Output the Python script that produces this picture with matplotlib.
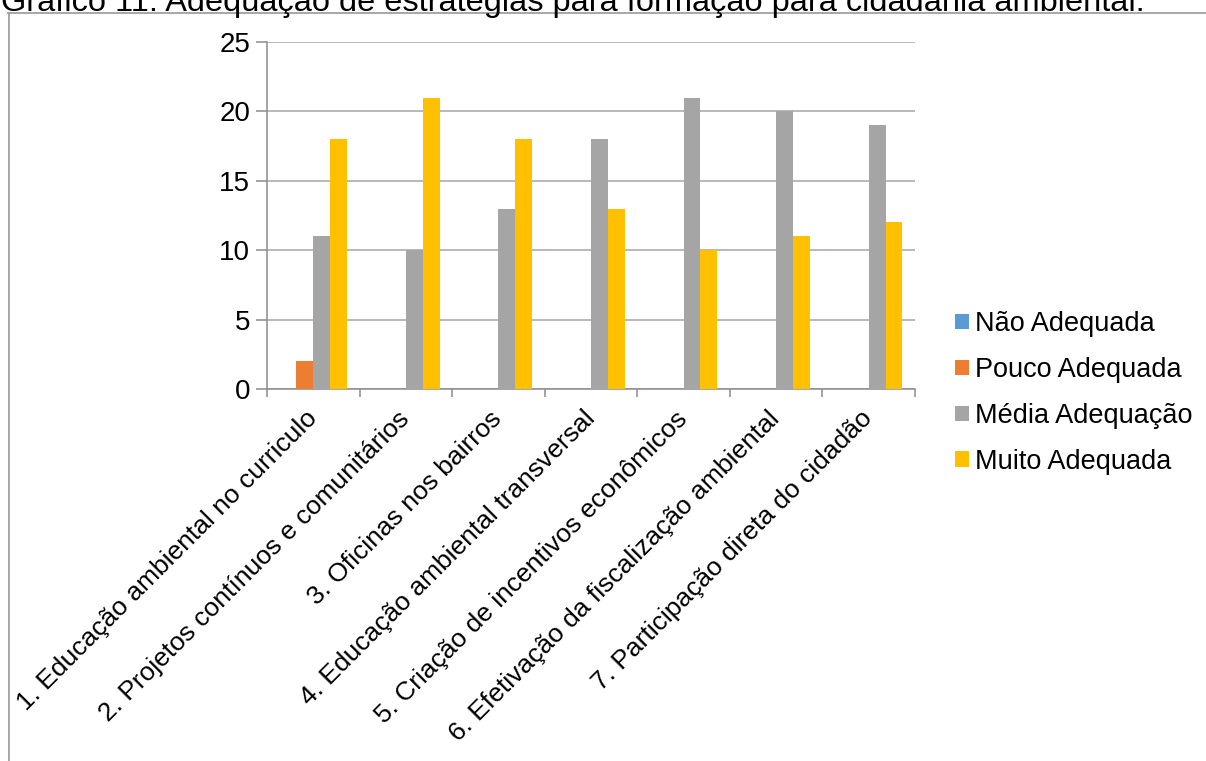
import matplotlib
matplotlib.use("Agg")
import matplotlib.pyplot as plt
from matplotlib.lines import Line2D
from matplotlib.transforms import ScaledTranslation
import numpy as np

plt.rcParams['font.family'] = ['Liberation Sans', 'DejaVu Sans']

categories = [
    "1. Educação ambiental no curriculo",
    "2. Projetos contínuos e comunitários",
    "3. Oficinas nos bairros",
    "4. Educação ambiental transversal",
    "5. Criação de incentivos econômicos",
    "6. Efetivação da fiscalização ambiental",
    "7. Participação direta do cidadão",
]
series_names = ["Não Adequada", "Pouco Adequada", "Média Adequação", "Muito Adequada"]
nao_adequada = [0, 0, 0, 0, 0, 0, 0]
pouco_adequada = [2, 0, 0, 0, 0, 0, 0]
media_adequacao = [11, 10, 13, 18, 21, 20, 19]
muito_adequada = [18, 21, 18, 13, 10, 11, 12]
y_ticks = [0, 5, 10, 15, 20, 25]
title = "Gráfico 11: Adequação de estratégias para formação para cidadania ambiental."

colors = ["#5B9BD5", "#ED7D31", "#A5A5A5", "#FFC000"]
series = [nao_adequada, pouco_adequada, media_adequacao, muito_adequada]

W, H = 1206, 761
fig = plt.figure(figsize=(W / 100, H / 100), dpi=100)
ax = fig.add_axes([267 / W, 1 - 389 / H, (915 - 267) / W, (389 - 42) / H])

n = len(series)
gap = 1.5
bw = 1.0 / (n + gap)
x = np.arange(len(categories))
for i, (vals, col, name) in enumerate(zip(series, colors, series_names)):
    offs = (i - (n - 1) / 2) * bw
    ax.bar(x + offs, vals, width=bw, color=col, label=name, zorder=3, linewidth=0)

ax.set_xlim(-0.5, len(categories) - 0.5)
ax.set_ylim(0, 25)
ax.set_yticks(y_ticks)
ax.set_yticklabels([str(t) for t in y_ticks], fontsize=20)
ax.yaxis.grid(True, color="#A6A6A6", linewidth=1.1, zorder=0)
ax.tick_params(axis='y', length=8, width=1.1, color="#8C8C8C", pad=4)

# category boundaries carry the tick marks, labels sit at the centers
ax.set_xticks(np.arange(len(categories) + 1) - 0.5)
ax.set_xticklabels([])
ax.tick_params(axis='x', length=6, width=1.1, color="#8C8C8C")
ax.set_xticks(x, minor=True)
ax.tick_params(axis='x', which='minor', length=0, pad=0)
ax.set_xticklabels(categories, minor=True, rotation=45, ha='right',
                   va='center', rotation_mode='anchor', fontsize=19)
shift = ScaledTranslation(0 / 100, -26 / 100, fig.dpi_scale_trans)
for lbl in ax.get_xticklabels(minor=True):
    lbl.set_transform(lbl.get_transform() + shift)

for s in ['top', 'right']:
    ax.spines[s].set_visible(False)
for s in ['left', 'bottom']:
    ax.spines[s].set_color("#8C8C8C")
    ax.spines[s].set_linewidth(1.1)
ax.set_axisbelow(True)

fig.legend(loc='center left', bbox_to_anchor=(955 / W, 1 - 393 / H),
           frameon=False, fontsize=19.5, handlelength=0.5, handleheight=0.5,
           handletextpad=0.25, labelspacing=0.73, borderpad=0, borderaxespad=0)

# surrounding frame of the chart area
fig.add_artist(Line2D([8.5 / W, 8.5 / W], [0, 1 - 13 / H], transform=fig.transFigure,
                      color="#A0A0A0", linewidth=1.3))
fig.add_artist(Line2D([8 / W, 1], [1 - 13 / H, 1 - 13 / H], transform=fig.transFigure,
                      color="#A0A0A0", linewidth=1.3))

fig.text(1 / W, 1 - 11 / H, title, fontsize=23.4, ha='left', va='baseline')

fig.savefig("out.png", dpi=100)
